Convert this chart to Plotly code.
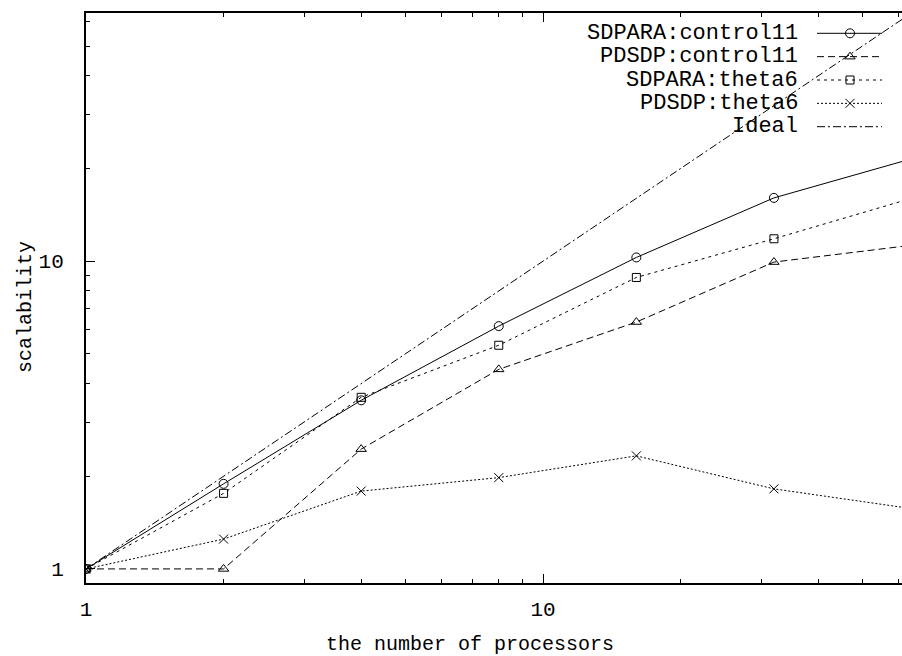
import math
import plotly.graph_objects as go

# Number of processors used in each run
processors = [1, 2, 4, 8, 16, 32, 64]

# Measured scalability (speed-up relative to one processor)
sdpara_control11 = [1.0, 1.89, 3.53, 6.15, 10.28, 16.05, 21.5]
pdsdp_control11 = [1.0, 1.0, 2.45, 4.45, 6.34, 9.93, 11.26]
sdpara_theta6 = [1.0, 1.76, 3.61, 5.33, 8.85, 11.82, 16.0]
pdsdp_theta6 = [1.0, 1.25, 1.79, 1.98, 2.33, 1.82, 1.57]
ideal = [1, 2, 4, 8, 16, 32, 64]

series_names = ["SDPARA:control11", "PDSDP:control11", "SDPARA:theta6",
                "PDSDP:theta6", "Ideal"]
series_values = [sdpara_control11, pdsdp_control11, sdpara_theta6,
                 pdsdp_theta6, ideal]

major_ticks = [1, 10]
major_tick_text = ["1", "10"]
minor_ticks = [2, 3, 4, 5, 6, 7, 8, 9, 20, 30, 40, 50, 60]

# Styles per series: dash pattern and marker symbol
styles = [
    dict(dash="solid", symbol="circle-open", msize=9),
    dict(dash="7px,4px", symbol="triangle-up-open", msize=9),
    dict(dash="3px,4px", symbol="square-open", msize=8),
    dict(dash="2px,2px", symbol="x-thin-open", msize=9),
    dict(dash="8px,3px,2px,3px", symbol=None, msize=0),
]

FONT = "Liberation Mono, DejaVu Sans Mono, monospace"
W, H = 902, 656
ML, MR, MT, MB = 86, 0, 13, 73
PW, PH = W - ML - MR, H - MT - MB


def px_to_paper(px, py):
    return (px - ML) / PW, (H - MB - py) / PH


fig = go.Figure()

for name, vals, st in zip(series_names, series_values, styles):
    fig.add_trace(go.Scatter(
        x=processors, y=vals, name=name, showlegend=False,
        mode="lines+markers" if st["symbol"] else "lines",
        line=dict(color="black", width=1, dash=st["dash"]),
        marker=dict(symbol=st["symbol"] or "circle", size=st["msize"],
                    color="black", line=dict(color="black", width=1)),
    ))

# Key drawn in pixel space on an overlay axis: right-aligned labels with samples
key_top, key_step = 33.3, 23.35
key_text_right, key_x0, key_x1, key_mark = 800, 817, 882, 850
for i, (name, st) in enumerate(zip(series_names, styles)):
    yk = key_top + key_step * i
    fig.add_trace(go.Scatter(
        x=[key_x0, key_x1], y=[yk, yk], mode="lines", showlegend=False,
        xaxis="x2", yaxis="y2", cliponaxis=False,
        line=dict(color="black", width=1, dash=st["dash"]),
        hoverinfo="skip",
    ))
    if st["symbol"]:
        fig.add_trace(go.Scatter(
            x=[key_mark], y=[yk], mode="markers", showlegend=False,
            xaxis="x2", yaxis="y2", cliponaxis=False,
            marker=dict(symbol=st["symbol"], size=st["msize"], color="black",
                        line=dict(color="black", width=1)),
            hoverinfo="skip",
        ))
    fig.add_annotation(
        x=key_text_right, y=yk, xref="x2", yref="y2", text=name,
        showarrow=False, xanchor="right", yanchor="middle",
        font=dict(family=FONT, size=22, color="black"),
    )

# Axis titles
tx, ty = px_to_paper(470, 645)
fig.add_annotation(x=tx, y=ty, xref="paper", yref="paper",
                   text="the number of processors", showarrow=False,
                   xanchor="center", yanchor="middle",
                   font=dict(family=FONT, size=20, color="black"))
lx, ly = px_to_paper(25, 307)
fig.add_annotation(x=lx, y=ly, xref="paper", yref="paper",
                   text="scalability", showarrow=False, textangle=-90,
                   xanchor="center", yanchor="middle",
                   font=dict(family=FONT, size=20, color="black"))

fig.update_layout(
    width=W, height=H,
    margin=dict(l=ML, r=MR, t=MT, b=MB, pad=0),
    paper_bgcolor="white", plot_bgcolor="white",
    font=dict(family=FONT, color="black"),
    xaxis=dict(
        type="log", range=[0, math.log10(61.0)],
        showgrid=False, zeroline=False,
        showline=True, linecolor="black", linewidth=2, mirror="ticks",
        ticks="inside", ticklen=9, tickwidth=1, tickcolor="black",
        tickvals=major_ticks, ticktext=major_tick_text,
        tickfont=dict(family=FONT, size=21, color="black"),
        ticklabelstandoff=6,
        minor=dict(tickvals=minor_ticks, ticks="inside", ticklen=4,
                   tickwidth=1, tickcolor="black", showgrid=False),
    ),
    yaxis=dict(
        type="log", range=[math.log10(0.9), math.log10(64)],
        showgrid=False, zeroline=False,
        showline=True, linecolor="black", linewidth=2, mirror=False,
        ticks="inside", ticklen=9, tickwidth=1, tickcolor="black",
        tickvals=major_ticks, ticktext=major_tick_text,
        tickfont=dict(family=FONT, size=21, color="black"),
        ticklabelstandoff=16,
        minor=dict(tickvals=minor_ticks, ticks="inside", ticklen=4,
                   tickwidth=1, tickcolor="black", showgrid=False),
    ),
    xaxis2=dict(overlaying="x", anchor="y2", range=[ML, W - MR],
                visible=False, fixedrange=True),
    yaxis2=dict(overlaying="y", anchor="x2", range=[H - MB, MT],
                visible=False, fixedrange=True),
)

fig.write_html("out.html")
